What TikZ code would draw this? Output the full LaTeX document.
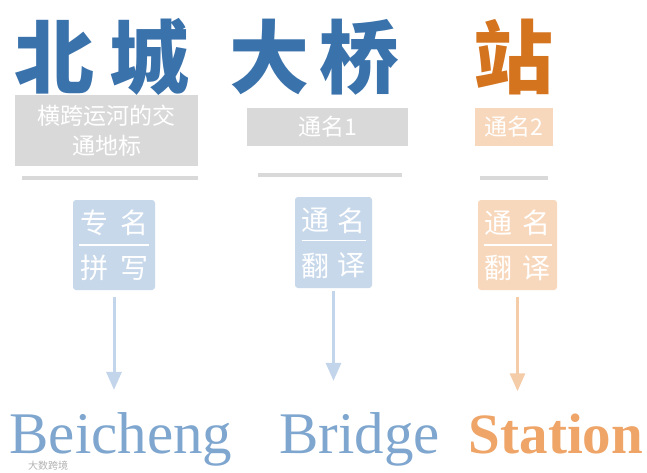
\documentclass[tikz,border=0pt]{standalone}
\usepackage{fontspec}
\setmainfont{Liberation Serif}
\newfontfamily\cjk{Noto Sans CJK SC}
\usetikzlibrary{arrows.meta}
\definecolor{tblue}{HTML}{3A72AC}
\definecolor{torange}{HTML}{D5741F}
\definecolor{gbox}{HTML}{D9D9D9}
\definecolor{lblue}{HTML}{C7D8EB}
\definecolor{lorange}{HTML}{F8D8BC}
\definecolor{wblue}{HTML}{7EA6CF}
\definecolor{worange}{HTML}{EFA568}
\definecolor{ablue}{HTML}{C3D5EA}
\definecolor{aorange}{HTML}{F4CCA8}
\tikzset{
  titlechar/.style={font=\cjk\bfseries\fontsize{80}{80}\selectfont, inner sep=0pt},
  labelbox/.style={fill=gbox, text=white, font=\cjk\fontsize{23}{30}\selectfont, align=center, inner sep=0pt},
  sepline/.style={draw=gbox, line width=4pt},
  kindbox/.style={rounded corners=3pt, inner sep=0pt},
  boxchar/.style={text=white, font=\cjk\fontsize{28}{28}\selectfont, inner sep=0pt},
  boxsep/.style={draw=white, line width=1.8pt},
  word/.style={font=\fontsize{59}{59}\selectfont, inner sep=0pt, anchor=base},
  arr/.style={line width=3pt, -{Triangle[width=15pt,length=18pt]}},
  wmark/.style={text=gray!60, font=\cjk\fontsize{10}{10}\selectfont, inner sep=0pt}
}
\begin{document}
\begin{tikzpicture}[x=1pt,y=-1pt]
\useasboundingbox[fill=white] (0,0) rectangle (647,473);
% title
\node[titlechar, text=tblue] (t1) at (54,57) {北};
\node[titlechar, text=tblue] (t2) at (149,57) {城};
\node[titlechar, text=tblue] (t3) at (269,57) {大};
\node[titlechar, text=tblue] (t4) at (359,57) {桥};
\node[titlechar, text=torange] (t5) at (513,57) {站};
% label boxes
\node[labelbox, minimum width=183pt, minimum height=71pt] (g1) at (106.5,130.5) {横跨运河的交\\通地标};
\node[labelbox, minimum width=161pt, minimum height=38pt] (g2) at (327.5,127) {通名1};
\node[labelbox, fill=lorange, minimum width=78pt, minimum height=38pt] (g3) at (514,127) {通名2};
% separators
\draw[sepline] (22,178) -- (198,178);
\draw[sepline] (258,175) -- (402,175);
\draw[sepline] (480,178) -- (548,178);
% kind boxes
\node[kindbox, fill=lblue, minimum width=82pt, minimum height=90pt] (b1) at (114,245) {};
\node[kindbox, fill=lblue, minimum width=77pt, minimum height=91pt] (b2) at (333.5,242.5) {};
\node[kindbox, fill=lorange, minimum width=79pt, minimum height=90pt] (b3) at (517.5,245) {};
\node[boxchar] (b1a) at ([xshift=-20pt,yshift=22pt]b1.center) {专};
\node[boxchar] (b1b) at ([xshift=20pt,yshift=22pt]b1.center) {名};
\node[boxchar] (b1c) at ([xshift=-20pt,yshift=-23pt]b1.center) {拼};
\node[boxchar] (b1d) at ([xshift=20pt,yshift=-23pt]b1.center) {写};
\draw[boxsep] ([xshift=-35pt]b1.center) -- ([xshift=35pt]b1.center);
\node[boxchar] (b2a) at ([xshift=-18pt,yshift=22pt]b2.center) {通};
\node[boxchar] (b2b) at ([xshift=18pt,yshift=22pt]b2.center) {名};
\node[boxchar] (b2c) at ([xshift=-18pt,yshift=-23pt]b2.center) {翻};
\node[boxchar] (b2d) at ([xshift=18pt,yshift=-23pt]b2.center) {译};
\draw[boxsep] ([xshift=-32pt,yshift=2pt]b2.center) -- ([xshift=32pt,yshift=2pt]b2.center);
\node[boxchar] (b3a) at ([xshift=-19pt,yshift=22pt]b3.center) {通};
\node[boxchar] (b3b) at ([xshift=19pt,yshift=22pt]b3.center) {名};
\node[boxchar] (b3c) at ([xshift=-19pt,yshift=-23pt]b3.center) {翻};
\node[boxchar] (b3d) at ([xshift=19pt,yshift=-23pt]b3.center) {译};
\draw[boxsep] ([xshift=-34pt]b3.center) -- ([xshift=34pt]b3.center);
% words
\node[word, text=wblue] (w1) at (121,453) {Beicheng};
\node[word, text=wblue] (w2) at (359.5,453) {Bridge};
\node[word, text=worange, font=\bfseries\fontsize{57}{57}\selectfont] (w3) at (556,453) {Station};
% arrows
\draw[arr, draw=ablue, shorten <=7pt, shorten >=22pt] (b1.south) -- (b1.south |- w1.north);
\draw[arr, draw=ablue, shorten <=3pt, shorten >=31pt] (b2.south) -- (b2.south |- w2.north);
\draw[arr, draw=aorange, shorten <=7pt, shorten >=22pt] (b3.south) -- (b3.south |- w3.north);
% watermark
\node[wmark, anchor=west] (wm) at (28,466) {大数跨境};
\end{tikzpicture}
\end{document}
